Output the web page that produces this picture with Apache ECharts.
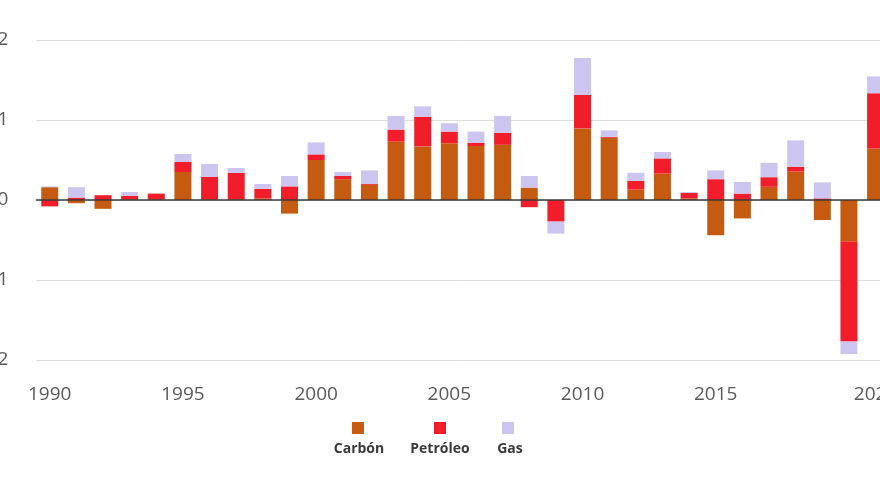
<!DOCTYPE html>
<html>
<head>
<meta charset="utf-8">
<script src="https://cdn.jsdelivr.net/npm/echarts@6/dist/echarts.min.js"></script>
<style>
html,body{margin:0;padding:0;background:#fff;}
#c{width:880px;height:495px;}
</style>
</head>
<body>
<div id="c"></div>
<script>
var years = ['1990','1991','1992','1993','1994','1995','1996','1997','1998','1999','2000','2001','2002','2003','2004','2005','2006','2007','2008','2009','2010','2011','2012','2013','2014','2015','2016','2017','2018','2019','2020','2021'];
var carbon   = [0.16,-0.04,-0.11,0.01,0.01,0.35,0.01,0.01,0.02,-0.17,0.50,0.26,0.19,0.73,0.67,0.71,0.675,0.69,0.155,0.0,0.895,0.78,0.13,0.33,0.02,-0.44,-0.23,0.165,0.355,-0.25,-0.52,0.645];
var petroleo = [-0.08,0.03,0.06,0.04,0.07,0.125,0.28,0.33,0.12,0.17,0.07,0.04,0.01,0.15,0.37,0.145,0.04,0.15,-0.09,-0.27,0.42,0.01,0.11,0.19,0.07,0.26,0.08,0.12,0.06,0.02,-1.25,0.69];
var gas      = [0.01,0.13,0.0,0.05,0.0,0.10,0.16,0.06,0.06,0.13,0.15,0.05,0.17,0.17,0.13,0.105,0.14,0.21,0.145,-0.15,0.46,0.08,0.10,0.08,0.01,0.11,0.145,0.18,0.33,0.20,-0.155,0.21];
var yTicks = [-2,-1,0,1,2];
var seriesNames = ['Carbón','Petróleo','Gas'];
var colors = ['#C55A11','#F21D2B','#CBC5F0'];

var shownLabels = {'1990':1,'1995':1,'2000':1,'2005':1,'2010':1,'2015':1,'2021':1};
var font = '"Open Sans", "Liberation Sans", sans-serif';

var chart = echarts.init(document.getElementById('c'), null, {renderer:'canvas'});
function mkSeries(name, data, color){
  return {name:name, type:'bar', stack:'total', stackStrategy:'samesign', data:data, barWidth:17,
    itemStyle:{color:color}, emphasis:{disabled:true}};
}
function mkLegend(name, left){
  return {data:[name], left:left, top:422, itemWidth:12, itemHeight:12, padding:0, itemGap:0,
    formatter:function(){return '';}, selectedMode:false, icon:'rect'};
}
chart.setOption({
  animation:false,
  color:colors,
  grid:{left:36.4, top:40, width:852.5, height:320, containLabel:false, outerBoundsMode:'none'},
  legend:[mkLegend('Carbón',352), mkLegend('Petróleo',434), mkLegend('Gas',502)],
  graphic:[
    {type:'text', x:359, y:449, style:{text:'Carbón', font:'bold 14px ' + font, fill:'#3a3a3a', textAlign:'center', textVerticalAlign:'middle'}},
    {type:'text', x:440, y:449, style:{text:'Petróleo', font:'bold 14px ' + font, fill:'#3a3a3a', textAlign:'center', textVerticalAlign:'middle'}},
    {type:'text', x:510, y:449, style:{text:'Gas', font:'bold 14px ' + font, fill:'#3a3a3a', textAlign:'center', textVerticalAlign:'middle'}}
  ],
  xAxis:[
    {type:'category', data:years, position:'bottom', boundaryGap:true,
     axisLine:{show:false, onZero:false}, axisTick:{show:false},
     axisLabel:{margin:25, fontSize:19, color:'#595959', fontFamily:font, hideOverlap:false,
       interval:function(i, v){return !!shownLabels[v];}}},
    {type:'category', data:years, position:'bottom', boundaryGap:true, z:10,
     axisLine:{show:true, onZero:true, lineStyle:{color:'#3a3a3a', width:1.5}},
     axisTick:{show:false}, axisLabel:{show:false}}
  ],
  yAxis:{type:'value', min:yTicks[0], max:yTicks[yTicks.length-1], interval:1,
    axisLine:{show:false}, axisTick:{show:false},
    axisLabel:{margin:28, fontSize:19, color:'#595959', fontFamily:font},
    splitLine:{lineStyle:{color:'#dcdcdc', width:1}}},
  series:[mkSeries(seriesNames[0], carbon, colors[0]), mkSeries(seriesNames[1], petroleo, colors[1]), mkSeries(seriesNames[2], gas, colors[2])]
});
</script>
</body>
</html>
